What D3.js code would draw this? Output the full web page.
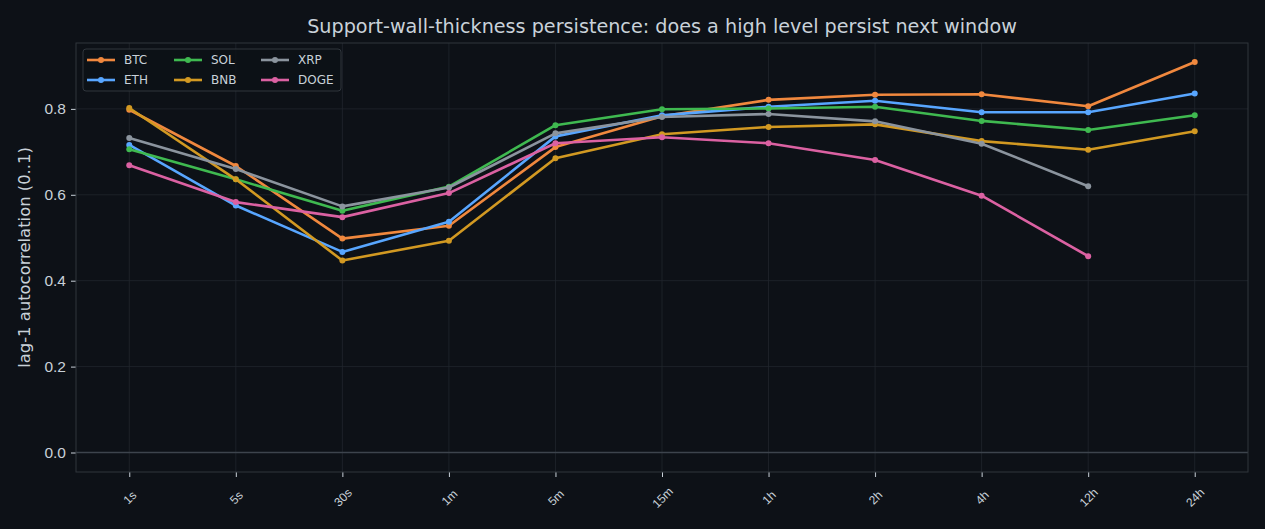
<!DOCTYPE html>
<html>
<head>
<meta charset="utf-8">
<script src="https://cdn.jsdelivr.net/npm/d3@7"></script>
<style>
  body { margin: 0; background: #0d1117; }
  svg { display: block; font-family: "DejaVu Sans", sans-serif; }
</style>
</head>
<body>
<svg id="chart" width="1265" height="529"></svg>
<script>
// windows on the x axis
const windows = ["1s", "5s", "30s", "1m", "5m", "15m", "1h", "2h", "4h", "12h", "24h"];
const yTicks = [0.0, 0.2, 0.4, 0.6, 0.8];

// lag-1 autocorrelation per symbol (null = no data)
const btc  = [0.798, 0.667, 0.498, 0.528, 0.711, 0.783, 0.821, 0.833, 0.834, 0.806, 0.909];
const eth  = [0.716, 0.575, 0.467, 0.537, 0.736, 0.785, 0.805, 0.819, 0.792, 0.792, 0.836];
const sol  = [0.706, 0.636, 0.563, 0.619, 0.762, 0.799, 0.801, 0.805, 0.772, 0.751, 0.785];
const bnb  = [0.802, 0.636, 0.447, 0.493, 0.685, 0.741, 0.758, 0.764, 0.725, 0.705, 0.748];
const xrp  = [0.732, 0.660, 0.573, 0.617, 0.743, 0.781, 0.788, 0.771, 0.719, 0.620, null];
const doge = [0.669, 0.583, 0.548, 0.604, 0.720, 0.734, 0.720, 0.681, 0.598, 0.457, null];

const seriesNames = ["BTC", "ETH", "SOL", "BNB", "XRP", "DOGE"];
const seriesValues = [btc, eth, sol, bnb, xrp, doge];
const seriesColors = ["#f0883e", "#58a6ff", "#3fb950", "#d29922", "#8b949e", "#db61a2"];

const svg = d3.select("#chart");
const margin = {left: 76, right: 17, top: 43, bottom: 57};
const W = 1265, H = 529;
const plotW = W - margin.left - margin.right;
const plotH = H - margin.top - margin.bottom;

const x = d3.scaleLinear().domain([-0.5, windows.length - 0.5]).range([margin.left, margin.left + plotW]);
const y = d3.scaleLinear().domain([-0.0454, 0.9534]).range([margin.top + plotH, margin.top]);

// grid
const g = svg.append("g");
g.selectAll(".vgrid").data(windows).enter().append("line")
    .attr("x1", (d, i) => x(i)).attr("x2", (d, i) => x(i))
    .attr("y1", margin.top).attr("y2", margin.top + plotH)
    .attr("stroke", "#21262d").attr("stroke-width", 0.8);
g.selectAll(".hgrid").data(yTicks).enter().append("line")
    .attr("x1", margin.left).attr("x2", margin.left + plotW)
    .attr("y1", d => y(d)).attr("y2", d => y(d))
    .attr("stroke", "#21262d").attr("stroke-width", 0.8);

// zero line
g.append("line")
    .attr("x1", margin.left).attr("x2", margin.left + plotW)
    .attr("y1", y(0)).attr("y2", y(0))
    .attr("stroke", "#3d444d").attr("stroke-width", 1.5);

// axes
const xAxis = d3.axisBottom(x).tickValues(d3.range(windows.length)).tickFormat(i => windows[i]).tickSize(5).tickPadding(4);
const xa = svg.append("g").attr("transform", "translate(0," + (margin.top + plotH) + ")").call(xAxis);
xa.select(".domain").remove();
xa.selectAll(".tick line").attr("stroke", "#c9d1d9").attr("stroke-width", 1);
xa.selectAll(".tick text")
    .attr("fill", "#c9d1d9").style("font-size", "12px")
    .attr("text-anchor", "middle")
    .attr("transform", "translate(0,25.5) rotate(-45)")
    .attr("dy", "0.35em").attr("y", 0).attr("x", 0);

const yAxis = d3.axisLeft(y).tickValues(yTicks).tickFormat(d3.format(".1f")).tickSize(5).tickPadding(5);
const ya = svg.append("g").attr("transform", "translate(" + margin.left + ",0)").call(yAxis);
ya.select(".domain").remove();
ya.selectAll(".tick line").attr("stroke", "#c9d1d9").attr("stroke-width", 1);
ya.selectAll(".tick text").attr("fill", "#c9d1d9").style("font-size", "15.5px");

// frame
svg.append("rect")
    .attr("x", margin.left).attr("y", margin.top)
    .attr("width", plotW).attr("height", plotH)
    .attr("fill", "none").attr("stroke", "#30363d").attr("stroke-width", 1);

// lines
const line = d3.line()
    .defined(d => d != null)
    .x((d, i) => x(i))
    .y(d => y(d));

seriesValues.forEach(function (vals, k) {
    svg.append("path")
        .datum(vals)
        .attr("d", line)
        .attr("fill", "none")
        .attr("stroke", seriesColors[k])
        .attr("stroke-width", 2.6)
        .attr("stroke-linejoin", "round");
    svg.selectAll(".pt" + k)
        .data(vals.map((v, i) => ({v: v, i: i})).filter(d => d.v != null))
        .enter().append("circle")
        .attr("cx", d => x(d.i)).attr("cy", d => y(d.v))
        .attr("r", 3)
        .attr("fill", seriesColors[k]);
});

// title + label
svg.append("text")
    .attr("x", margin.left + plotW / 2).attr("y", 33.3)
    .attr("text-anchor", "middle")
    .attr("fill", "#c9d1d9").style("font-size", "19.2px")
    .text("Support-wall-thickness persistence: does a high level persist next window");

svg.append("text")
    .attr("transform", "translate(30," + (margin.top + plotH / 2) + ") rotate(-90)")
    .attr("text-anchor", "middle")
    .attr("fill", "#c9d1d9").style("font-size", "16.4px")
    .text("lag-1 autocorrelation (0..1)");

// legend, 3 columns, filled column by column
const legend = svg.append("g").attr("transform", "translate(83,49)");
legend.append("rect")
    .attr("width", 258).attr("height", 42).attr("rx", 3)
    .attr("fill", "#0d1117").attr("fill-opacity", 0.8)
    .attr("stroke", "#30363d");
seriesNames.forEach(function (name, k) {
    const col = Math.floor(k / 2), row = k % 2;
    const lg = legend.append("g").attr("transform", "translate(" + (4 + col * 87) + "," + (11 + row * 20) + ")");
    lg.append("line").attr("x1", 0).attr("x2", 28).attr("stroke", seriesColors[k]).attr("stroke-width", 2.6);
    lg.append("circle").attr("cx", 14).attr("r", 3).attr("fill", seriesColors[k]);
    lg.append("text").attr("x", 37).attr("dy", "0.35em")
        .attr("fill", "#c9d1d9").style("font-size", "12px").text(name);
});
</script>
</body>
</html>
